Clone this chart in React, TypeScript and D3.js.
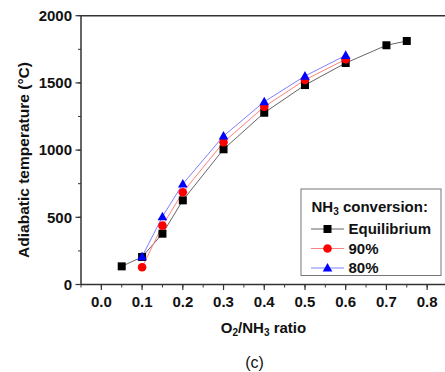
import React from "react";
import * as d3 from "d3";

const eqX = [0.05, 0.1, 0.15, 0.2, 0.3, 0.4, 0.5, 0.6, 0.7, 0.75];
const eqY = [135, 205, 378, 626, 1006, 1278, 1484, 1648, 1780, 1812];
const c90X = [0.1, 0.15, 0.2, 0.3, 0.4, 0.5, 0.6];
const c90Y = [128, 438, 686, 1058, 1323, 1522, 1676];
const c80X = [0.1, 0.15, 0.2, 0.3, 0.4, 0.5, 0.6];
const c80Y = [207, 505, 748, 1105, 1360, 1551, 1705];
const xTicks = [0.0, 0.1, 0.2, 0.3, 0.4, 0.5, 0.6, 0.7, 0.8];
const yTicks = [0, 500, 1000, 1500, 2000];

const font = "'Liberation Sans', Arial, sans-serif";

export default function App() {
  const W = 445, H = 372;
  const x = d3.scaleLinear().domain([-0.05, 0.85]).range([81, 447.5]);
  const y = d3.scaleLinear().domain([0, 2000]).range([284.5, 15.7]);
  const line = d3.line<[number, number]>().x(d => x(d[0])).y(d => y(d[1]));
  const eq = eqX.map((v, i) => [v, eqY[i]] as [number, number]);
  const s90 = c90X.map((v, i) => [v, c90Y[i]] as [number, number]);
  const s80 = c80X.map((v, i) => [v, c80Y[i]] as [number, number]);
  const minorX = d3.range(-0.05, 0.851, 0.05).map(v => Math.round(v * 100) / 100);
  const minorY = d3.range(0, 2001, 250);
  const sq = (cx: number, cy: number, k: string | number) => (
    <rect key={k} x={cx - 4} y={cy - 4} width={8} height={8} fill="#000" />
  );
  const circ = (cx: number, cy: number, k: string | number) => (
    <circle key={k} cx={cx} cy={cy} r={4.3} fill="#ff0000" />
  );
  const tri = (cx: number, cy: number, k: string | number) => (
    <path key={k} d={`M${cx},${cy - 5}L${cx + 4.8},${cy + 3.6}L${cx - 4.8},${cy + 3.6}Z`} fill="#0000ff" />
  );
  const axisColor = "#333";
  const x0 = x.range()[0];
  return (
    <svg width={W} height={H} style={{ position: "absolute", left: 0, top: 0 }}>
      <rect width={W} height={H} fill="#fff" />
      <path d={line(eq) || ""} fill="none" stroke="#666" strokeWidth={1} />
      <path d={line(s90) || ""} fill="none" stroke="#ff8080" strokeWidth={1} />
      <path d={line(s80) || ""} fill="none" stroke="#8080ff" strokeWidth={1} />
      {eq.map((d, i) => sq(x(d[0]), y(d[1]), "e" + i))}
      {s90.map((d, i) => circ(x(d[0]), y(d[1]), "r" + i))}
      {s80.map((d, i) => tri(x(d[0]), y(d[1]), "b" + i))}
      <line x1={x0} x2={W} y1={y(2000)} y2={y(2000)} stroke={axisColor} strokeWidth={1.5} />
      <line x1={x0} x2={W} y1={y(0)} y2={y(0)} stroke={axisColor} strokeWidth={1.5} />
      <line x1={x0} x2={x0} y1={y(0)} y2={y(2000)} stroke={axisColor} strokeWidth={1.5} />
      {minorX.map((v, i) => (
        <line key={"mx" + i} x1={x(v)} x2={x(v)} y1={y(0)} y2={y(0) + 3} stroke={axisColor} strokeWidth={1} />
      ))}
      {xTicks.map((v, i) => (
        <g key={"xt" + i}>
          <line x1={x(v)} x2={x(v)} y1={y(0)} y2={y(0) + 5.5} stroke={axisColor} strokeWidth={1.2} />
          <text x={x(v)} y={306.5} textAnchor="middle" fontFamily={font} fontWeight="bold" fontSize={15} fill="#111">
            {v.toFixed(1)}
          </text>
        </g>
      ))}
      {minorY.map((v, i) => (
        <line key={"my" + i} x1={x0 - 3} x2={x0} y1={y(v)} y2={y(v)} stroke={axisColor} strokeWidth={1} />
      ))}
      {yTicks.map((v, i) => (
        <g key={"yt" + i}>
          <line x1={x0 - 5.5} x2={x0} y1={y(v)} y2={y(v)} stroke={axisColor} strokeWidth={1.2} />
          <text x={72} y={y(v) + 5.3} textAnchor="end" fontFamily={font} fontWeight="bold" fontSize={15} fill="#111">
            {v}
          </text>
        </g>
      ))}
      <text transform={`translate(28.5,160) rotate(-90)`} textAnchor="middle" fontFamily={font} fontWeight="bold" fontSize={15} fill="#111"
        textLength={196} lengthAdjust="spacingAndGlyphs">
        Adiabatic temperature (°C)
      </text>
      <text x={263.5} y={333} textAnchor="middle" fontFamily={font} fontWeight="bold" fontSize={15} fill="#111">
        O<tspan fontSize={10} dy={3}>2</tspan><tspan dy={-3}>/NH</tspan><tspan fontSize={10} dy={3}>3</tspan><tspan dy={-3}> ratio</tspan>
      </text>
      <text x={254.5} y={368} textAnchor="middle" fontFamily={font} fontSize={16} fill="#111">
        (c)
      </text>
      <rect x={301} y={189} width={140} height={86.5} fill="#fff" stroke="#777" strokeWidth={1} />
      <text x={311.5} y={211.5} fontFamily={font} fontWeight="bold" fontSize={15} fill="#111">
        NH<tspan fontSize={10} dy={3}>3</tspan><tspan dy={-3}> conversion:</tspan>
      </text>
      {[
        { label: "Equilibrium", stroke: "#666", m: sq, cy: 229 },
        { label: "90%", stroke: "#ff8080", m: circ, cy: 248.5 },
        { label: "80%", stroke: "#8080ff", m: tri, cy: 268 },
      ].map((e, i) => (
        <g key={"lg" + i}>
          <line x1={311} x2={344} y1={e.cy} y2={e.cy} stroke={e.stroke} strokeWidth={1} />
          {e.m(327.5, e.cy, "lm" + i)}
          <text x={348.5} y={e.cy + 5.3} fontFamily={font} fontWeight="bold" fontSize={15} fill="#111">
            {e.label}
          </text>
        </g>
      ))}
    </svg>
  );
}
